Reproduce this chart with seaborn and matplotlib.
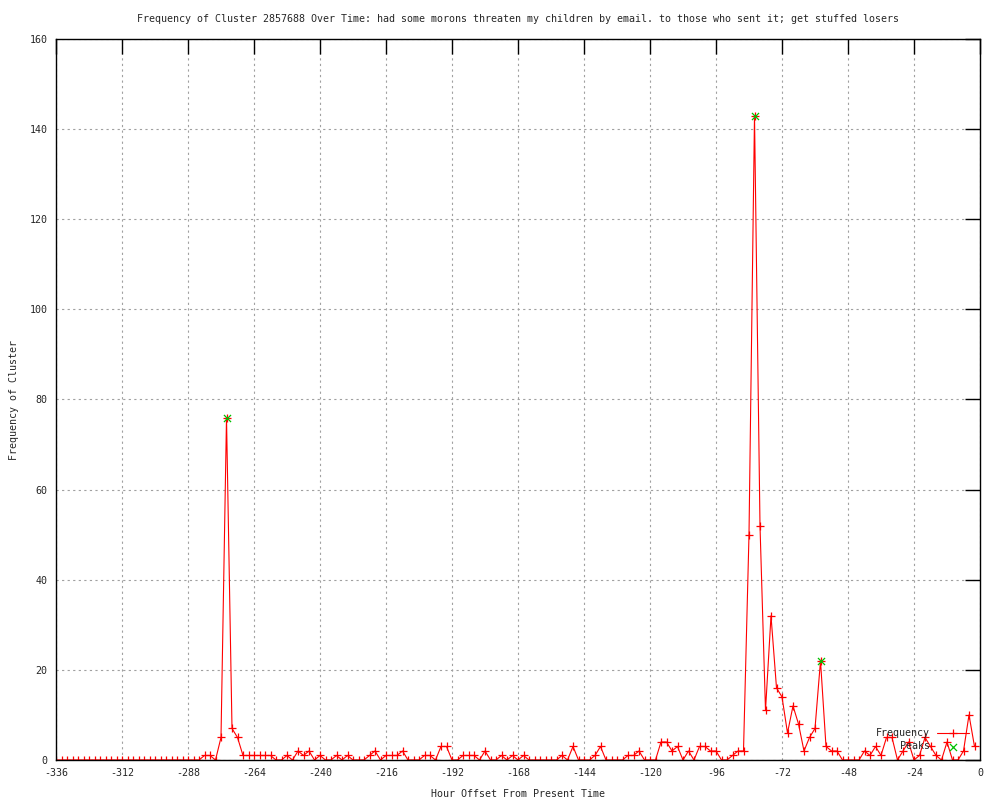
import numpy as np
import pandas as pd
import matplotlib
matplotlib.use("Agg")
import matplotlib.pyplot as plt
import seaborn as sns

# Offsets every 2 hours and the cluster frequency
hours = list(range(-336, 0, 2))
frequency = [
    0, 0, 0, 0, 0, 0, 0, 0, 0, 0, 0, 0, 0, 0, 0, 0, 0, 0, 0, 0,
    0, 0, 0, 0, 0, 0, 0, 1, 1, 0, 5, 76, 7, 5, 1, 1, 1, 1, 1, 1,
    0, 0, 1, 0, 2, 1, 2, 0, 1, 0, 0, 1, 0, 1, 0, 0, 0, 1, 2, 0,
    1, 1, 1, 2, 0, 0, 0, 1, 1, 0, 3, 3, 0, 0, 1, 1, 1, 0, 2, 0,
    0, 1, 0, 1, 0, 1, 0, 0, 0, 0, 0, 0, 1, 0, 3, 0, 0, 0, 1, 3,
    0, 0, 0, 0, 1, 1, 2, 0, 0, 0, 4, 4, 2, 3, 0, 2, 0, 3, 3, 2,
    2, 0, 0, 1, 2, 2, 50, 143, 52, 11, 32, 16, 14, 6, 12, 8, 2, 5, 7, 22,
    3, 2, 2, 0, 0, 0, 0, 2, 1, 3, 1, 5, 5, 0, 2, 4, 0, 1, 5, 3,
    1, 0, 4, 0, 0, 2, 10, 3,
]
peak_hours = [-274, -82, -58]
peak_values = [76, 143, 22]

x_ticks = list(range(-336, 1, 24))
y_ticks = list(range(0, 161, 20))

df = pd.DataFrame({"hour": hours, "freq": frequency})
peaks = pd.DataFrame({"hour": peak_hours, "freq": peak_values})

sns.set_style("white")
plt.rcParams["font.family"] = ["DejaVu Sans Mono"]
plt.rcParams["axes.unicode_minus"] = False
font_size = 7.2

fig = plt.figure(figsize=(10, 8), dpi=100)
ax = fig.add_axes([0.056, 0.05, 0.924, 0.90125])

sns.lineplot(data=df, x="hour", y="freq", color="red", linewidth=0.8,
             marker="+", markersize=5.5, markeredgewidth=0.9,
             markeredgecolor="red", label="Frequency", ax=ax)
sns.scatterplot(data=peaks, x="hour", y="freq", marker="x", color="#00c000",
                s=26, linewidth=0.9, label="Peaks", ax=ax, zorder=5)

ax.set_xlim(-336, 0)
ax.set_ylim(0, 160)
ax.set_xticks(x_ticks)
ax.set_yticks(y_ticks)
ax.tick_params(direction="in", length=11, width=1, color="black",
               top=True, right=True, labelsize=font_size, pad=6)
ax.grid(True, color="#a0a0a0", linestyle=(0, (2, 3)), linewidth=0.8)
for side in ax.spines.values():
    side.set_color("black")
    side.set_linewidth(1)

ax.set_title("Frequency of Cluster 2857688 Over Time: had some morons threaten my children "
             "by email. to those who sent it; get stuffed losers",
             fontsize=font_size, pad=12)
ax.set_xlabel("Hour Offset From Present Time", fontsize=font_size, labelpad=8)
ax.set_ylabel("Frequency of Cluster", fontsize=font_size, labelpad=8)

ax.legend(loc="lower right", bbox_to_anchor=(0.988, 0.012), frameon=False,
          markerfirst=False, fontsize=font_size, handlelength=3.2,
          handletextpad=0.7, labelspacing=0.3, borderpad=0, borderaxespad=0)

fig.savefig("out.png", dpi=100)
